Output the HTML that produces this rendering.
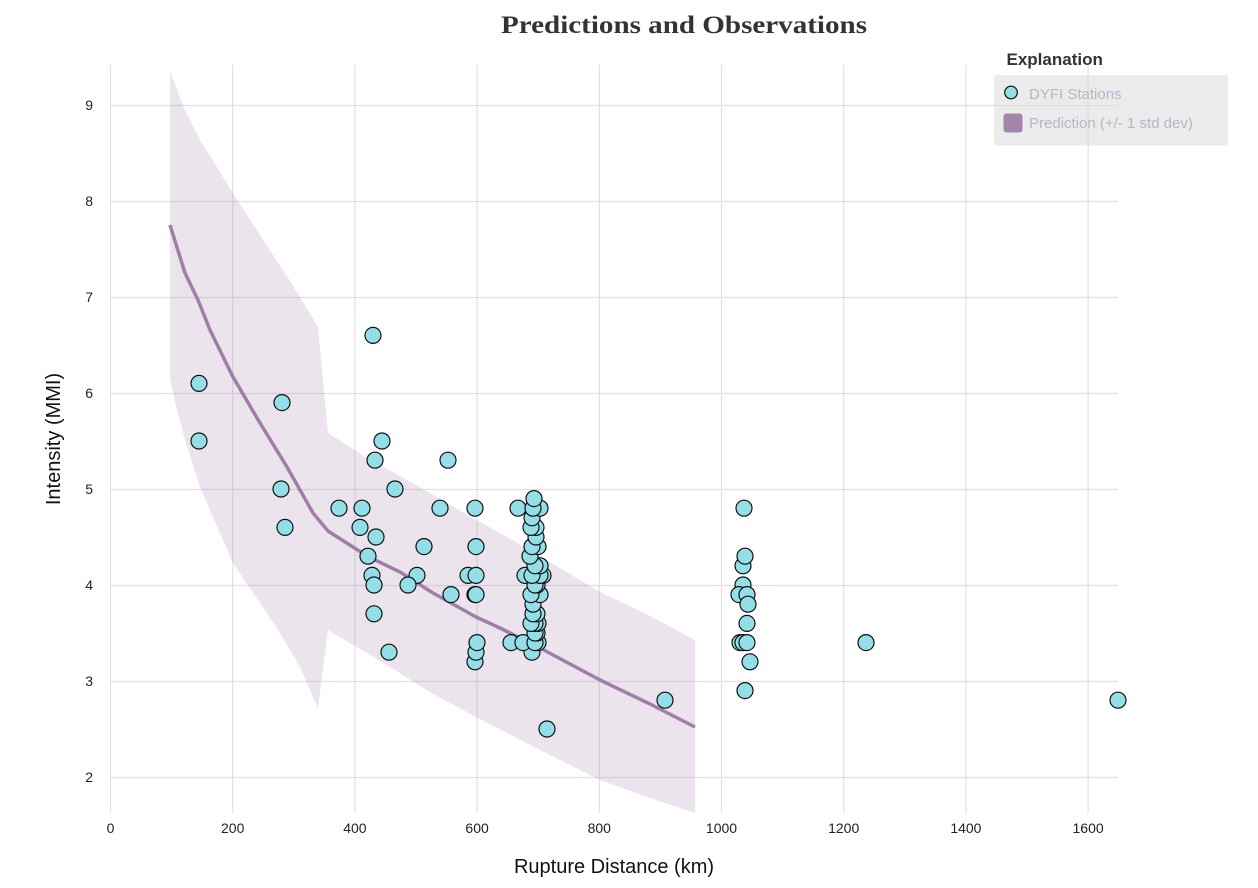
<!DOCTYPE html>
<html><head><meta charset="utf-8"><style>
html,body{margin:0;padding:0;background:#fff;}
svg{display:block;}
</style></head><body>
<svg width="1258" height="888" viewBox="0 0 1258 888" xmlns="http://www.w3.org/2000/svg" font-family="'Liberation Sans', Arial, sans-serif">
<rect width="1258" height="888" fill="#fff"/>
<!-- title -->
<text x="684" y="33" text-anchor="middle" font-family="'Liberation Serif', serif" font-weight="bold" font-size="25" fill="#333" textLength="366" lengthAdjust="spacingAndGlyphs">Predictions and Observations</text>
<!-- grid -->
<g stroke="#e0e0e0" stroke-width="1.2" fill="none">
<line x1="110.5" y1="65" x2="110.5" y2="813"/>
<line x1="232.7" y1="65" x2="232.7" y2="813"/>
<line x1="354.9" y1="65" x2="354.9" y2="813"/>
<line x1="477.1" y1="65" x2="477.1" y2="813"/>
<line x1="599.3" y1="65" x2="599.3" y2="813"/>
<line x1="721.5" y1="65" x2="721.5" y2="813"/>
<line x1="843.7" y1="65" x2="843.7" y2="813"/>
<line x1="965.9" y1="65" x2="965.9" y2="813"/>
<line x1="1088.1" y1="65" x2="1088.1" y2="813"/>
<line x1="110" y1="105.5" x2="1118" y2="105.5"/>
<line x1="110" y1="201.5" x2="1118" y2="201.5"/>
<line x1="110" y1="297.5" x2="1118" y2="297.5"/>
<line x1="110" y1="393.5" x2="1118" y2="393.5"/>
<line x1="110" y1="489.5" x2="1118" y2="489.5"/>
<line x1="110" y1="585.5" x2="1118" y2="585.5"/>
<line x1="110" y1="681.5" x2="1118" y2="681.5"/>
<line x1="110" y1="777.5" x2="1118" y2="777.5"/>
</g>
<!-- y tick labels -->
<g font-size="14" fill="#222" text-anchor="end">
<text x="93" y="110">9</text>
<text x="93" y="206">8</text>
<text x="93" y="302">7</text>
<text x="93" y="398">6</text>
<text x="93" y="494">5</text>
<text x="93" y="590">4</text>
<text x="93" y="686">3</text>
<text x="93" y="782">2</text>
</g>
<!-- x tick labels -->
<g font-size="14" fill="#222" text-anchor="middle">
<text x="110.5" y="833">0</text>
<text x="232.7" y="833">200</text>
<text x="354.9" y="833">400</text>
<text x="477.1" y="833">600</text>
<text x="599.3" y="833">800</text>
<text x="721.5" y="833">1000</text>
<text x="843.7" y="833">1200</text>
<text x="965.9" y="833">1400</text>
<text x="1088.1" y="833">1600</text>
</g>
<!-- axis titles -->
<text x="614" y="873" text-anchor="middle" font-size="20" fill="#111">Rupture Distance (km)</text>
<text transform="translate(60,439) rotate(-90)" x="0" y="0" text-anchor="middle" font-size="20" fill="#111">Intensity (MMI)</text>
<!-- band -->
<polygon fill="rgba(163,132,171,0.22)" points="170,71 183,106 200,140 233,193 267,246 290,281 300,297 318,327 328,433 367,458 400,476 433,495 476,520 500,533 540,556 600,592 650,616 695,640 695,813 650,798 600,780 540,750 476,717 433,694 400,673 367,653 328,630 318,708 300,667 280,633 260,603 233,563 200,487 185,440 177,410 170,378"/>
<!-- prediction line -->
<polyline fill="none" stroke="#a07ea8" stroke-width="3.5" stroke-linejoin="round" points="170,225 185,273 198,300 210,330 233,377 260,423 287,467 313,513 328,531 367,556 400,572 433,593 476,617 500,628 540,648 600,680 650,704 695,727"/>
<!-- points -->
<g fill="#94dfe7" stroke="#111" stroke-width="1.2">
<circle cx="373" cy="335.4" r="8"/>
<circle cx="199" cy="383.4" r="8"/>
<circle cx="282" cy="402.6" r="8"/>
<circle cx="199" cy="441" r="8"/>
<circle cx="382" cy="441" r="8"/>
<circle cx="375" cy="460.2" r="8"/>
<circle cx="448" cy="460.2" r="8"/>
<circle cx="281" cy="489" r="8"/>
<circle cx="395" cy="489" r="8"/>
<circle cx="339" cy="508.2" r="8"/>
<circle cx="362" cy="508.2" r="8"/>
<circle cx="440" cy="508.2" r="8"/>
<circle cx="475" cy="508.2" r="8"/>
<circle cx="285" cy="527.4" r="8"/>
<circle cx="360" cy="527.4" r="8"/>
<circle cx="376" cy="537" r="8"/>
<circle cx="424" cy="546.6" r="8"/>
<circle cx="476" cy="546.6" r="8"/>
<circle cx="368" cy="556.2" r="8"/>
<circle cx="372" cy="575.4" r="8"/>
<circle cx="417" cy="575.4" r="8"/>
<circle cx="468" cy="575.4" r="8"/>
<circle cx="476" cy="575.4" r="8"/>
<circle cx="374" cy="585" r="8"/>
<circle cx="408" cy="585" r="8"/>
<circle cx="451" cy="594.6" r="8"/>
<circle cx="475" cy="594.6" r="8"/>
<circle cx="476" cy="594.6" r="8"/>
<circle cx="374" cy="613.8" r="8"/>
<circle cx="389" cy="652.2" r="8"/>
<circle cx="475" cy="661.8" r="8"/>
<circle cx="476" cy="652.2" r="8"/>
<circle cx="477" cy="642.6" r="8"/>
<circle cx="547" cy="729" r="8"/>
<circle cx="665" cy="700.2" r="8"/>
<circle cx="1118" cy="700.2" r="8"/>
<circle cx="866" cy="642.6" r="8"/>
<!-- 1040 km column -->
<circle cx="744" cy="508.2" r="8"/>
<circle cx="743" cy="565.8" r="8"/>
<circle cx="745" cy="556.2" r="8"/>
<circle cx="743" cy="585" r="8"/>
<circle cx="739" cy="594.6" r="8"/>
<circle cx="747" cy="594.6" r="8"/>
<circle cx="748" cy="604.2" r="8"/>
<circle cx="747" cy="623.4" r="8"/>
<circle cx="740" cy="642.6" r="8"/>
<circle cx="743" cy="642.6" r="8"/>
<circle cx="747" cy="642.6" r="8"/>
<circle cx="750" cy="661.8" r="8"/>
<circle cx="745" cy="690.6" r="8"/>
<!-- 690 km column -->
<circle cx="532" cy="652.2" r="8"/>
<circle cx="511" cy="642.6" r="8"/>
<circle cx="523" cy="642.6" r="8"/>
<circle cx="538" cy="642.6" r="8"/>
<circle cx="535" cy="642.6" r="8"/>
<circle cx="537" cy="633" r="8"/>
<circle cx="535" cy="633" r="8"/>
<circle cx="538" cy="623.4" r="8"/>
<circle cx="535" cy="623.4" r="8"/>
<circle cx="531" cy="623.4" r="8"/>
<circle cx="537" cy="613.8" r="8"/>
<circle cx="533" cy="613.8" r="8"/>
<circle cx="533" cy="604.2" r="8"/>
<circle cx="540" cy="594.6" r="8"/>
<circle cx="531" cy="594.6" r="8"/>
<circle cx="537" cy="585" r="8"/>
<circle cx="535" cy="585" r="8"/>
<circle cx="543" cy="575.4" r="8"/>
<circle cx="540" cy="575.4" r="8"/>
<circle cx="525" cy="575.4" r="8"/>
<circle cx="532" cy="575.4" r="8"/>
<circle cx="540" cy="565.8" r="8"/>
<circle cx="535" cy="565.8" r="8"/>
<circle cx="530" cy="556.2" r="8"/>
<circle cx="538" cy="546.6" r="8"/>
<circle cx="532" cy="546.6" r="8"/>
<circle cx="536" cy="537" r="8"/>
<circle cx="536" cy="527.4" r="8"/>
<circle cx="531" cy="527.4" r="8"/>
<circle cx="532" cy="517.8" r="8"/>
<circle cx="518" cy="508.2" r="8"/>
<circle cx="540" cy="508.2" r="8"/>
<circle cx="533" cy="508.2" r="8"/>
<circle cx="534" cy="498.6" r="8"/>
</g>
<!-- legend -->
<text x="1006.5" y="65" font-size="17" font-weight="bold" fill="#333">Explanation</text>
<rect x="994" y="75" width="234" height="70.5" rx="3" fill="rgba(222,222,222,0.6)"/>
<circle cx="1011" cy="92.5" r="6.3" fill="#94dfe7" stroke="#111" stroke-width="1.2"/>
<text x="1029" y="99" font-size="15" fill="#b3b8c8">DYFI Stations</text>
<rect x="1003.5" y="113.5" width="19" height="19" rx="3" fill="#a384ab"/>
<text x="1029" y="128" font-size="15" fill="#b3b8c8">Prediction (+/- 1 std dev)</text>
</svg>
</body></html>
